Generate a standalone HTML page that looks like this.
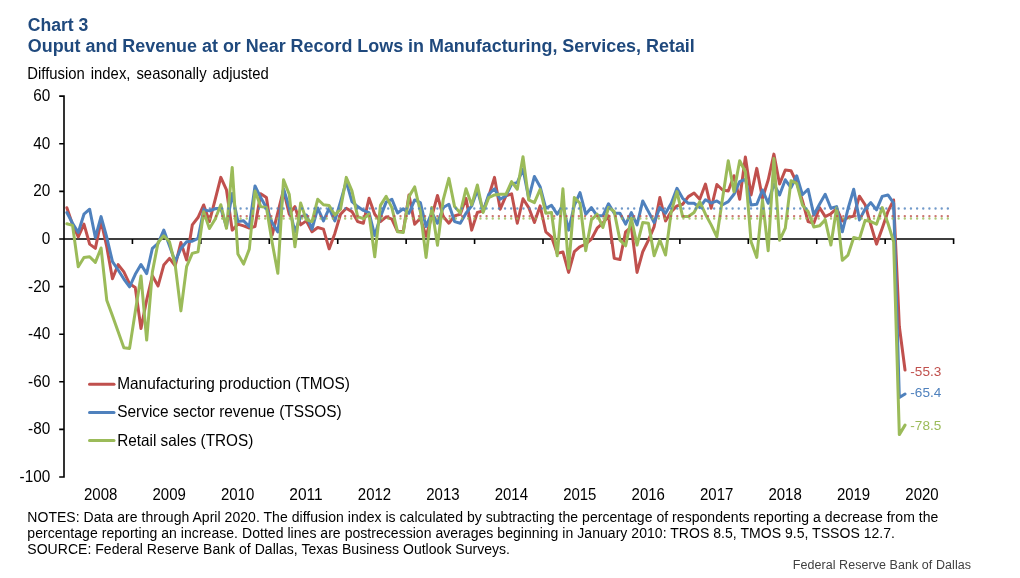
<!DOCTYPE html>
<html lang="en">
<head>
<meta charset="utf-8">
<title>Chart 3 - Ouput and Revenue at or Near Record Lows in Manufacturing, Services, Retail</title>
<style>
html,body{margin:0;padding:0;background:#fff;}
body{width:1020px;height:578px;overflow:hidden;position:relative;font-family:"Liberation Sans",Arial,Helvetica,sans-serif;}
svg{position:absolute;left:0;top:0;display:block;}
text{font-family:"Liberation Sans",Arial,Helvetica,sans-serif;white-space:pre;}
.ttl{font-size:17px;font-weight:700;fill:#1F497D;}
.sub{font-size:14.67px;fill:#000;}
.ax{font-size:15.3px;fill:#000;}
.note{font-size:14px;fill:#000;}
.lbl{font-size:13.33px;}
.src{font-size:12.5px;fill:#404040;}
.ln{fill:none;stroke-width:3.0;stroke-linejoin:round;stroke-linecap:round;}
.dot{fill:none;opacity:0.8;stroke-width:2.4;stroke-linecap:round;stroke-dasharray:0.01 6.14;}
.axl{stroke:#000;stroke-width:1.6;fill:none;}
</style>
</head>
<body>
<svg width="1020" height="578" viewBox="0 0 1020 578">
<rect x="0" y="0" width="1020" height="578" fill="#ffffff"/>
<text class="ttl" textLength="60.6" lengthAdjust="spacingAndGlyphs" transform="translate(27.7,30.75) scale(1,1.075)">Chart 3</text>
<text class="ttl" textLength="667" lengthAdjust="spacingAndGlyphs" transform="translate(27.8,51.65) scale(1,1.075)">Ouput and Revenue at or Near Record Lows in Manufacturing, Services, Retail</text>
<text class="sub" style="font-size:14.85px;word-spacing:1.9px" transform="translate(27.3,79.15) scale(1,1.06)">Diffusion index, seasonally adjusted</text>
<text class="ax" text-anchor="end" transform="translate(50.2,101.1) scale(1,1.05)">60</text>
<text class="ax" text-anchor="end" transform="translate(50.2,148.71) scale(1,1.05)">40</text>
<text class="ax" text-anchor="end" transform="translate(50.2,196.31) scale(1,1.05)">20</text>
<text class="ax" text-anchor="end" transform="translate(50.2,243.92) scale(1,1.05)">0</text>
<text class="ax" text-anchor="end" transform="translate(50.2,291.53) scale(1,1.05)">-20</text>
<text class="ax" text-anchor="end" transform="translate(50.2,339.13) scale(1,1.05)">-40</text>
<text class="ax" text-anchor="end" transform="translate(50.2,386.74) scale(1,1.05)">-60</text>
<text class="ax" text-anchor="end" transform="translate(50.2,434.34) scale(1,1.05)">-80</text>
<text class="ax" text-anchor="end" transform="translate(50.2,481.95) scale(1,1.05)">-100</text>
<text class="ax" textLength="33.3" lengthAdjust="spacingAndGlyphs" transform="translate(84.05,499.9) scale(1,1.05)">2008</text>
<text class="ax" textLength="33.3" lengthAdjust="spacingAndGlyphs" transform="translate(152.49,499.9) scale(1,1.05)">2009</text>
<text class="ax" textLength="33.3" lengthAdjust="spacingAndGlyphs" transform="translate(220.93,499.9) scale(1,1.05)">2010</text>
<text class="ax" textLength="33.3" lengthAdjust="spacingAndGlyphs" transform="translate(289.37,499.9) scale(1,1.05)">2011</text>
<text class="ax" textLength="33.3" lengthAdjust="spacingAndGlyphs" transform="translate(357.81,499.9) scale(1,1.05)">2012</text>
<text class="ax" textLength="33.3" lengthAdjust="spacingAndGlyphs" transform="translate(426.25,499.9) scale(1,1.05)">2013</text>
<text class="ax" textLength="33.3" lengthAdjust="spacingAndGlyphs" transform="translate(494.69,499.9) scale(1,1.05)">2014</text>
<text class="ax" textLength="33.3" lengthAdjust="spacingAndGlyphs" transform="translate(563.13,499.9) scale(1,1.05)">2015</text>
<text class="ax" textLength="33.3" lengthAdjust="spacingAndGlyphs" transform="translate(631.57,499.9) scale(1,1.05)">2016</text>
<text class="ax" textLength="33.3" lengthAdjust="spacingAndGlyphs" transform="translate(700.01,499.9) scale(1,1.05)">2017</text>
<text class="ax" textLength="33.3" lengthAdjust="spacingAndGlyphs" transform="translate(768.45,499.9) scale(1,1.05)">2018</text>
<text class="ax" textLength="33.3" lengthAdjust="spacingAndGlyphs" transform="translate(836.89,499.9) scale(1,1.05)">2019</text>
<text class="ax" textLength="33.3" lengthAdjust="spacingAndGlyphs" transform="translate(905.33,499.9) scale(1,1.05)">2020</text>
<path class="axl" d="M64.0,95.35 V477.80 M59.2,96.15 H64.0 M59.2,143.76 H64.0 M59.2,191.36 H64.0 M59.2,238.97 H64.0 M59.2,286.58 H64.0 M59.2,334.18 H64.0 M59.2,381.79 H64.0 M59.2,429.39 H64.0 M59.2,477.00 H64.0 M64.0,238.97 H954.4 M132.43,238.97 V243.97 M200.86,238.97 V243.97 M269.29,238.97 V243.97 M337.72,238.97 V243.97 M406.15,238.97 V243.97 M474.58,238.97 V243.97 M543.02,238.97 V243.97 M611.45,238.97 V243.97 M679.88,238.97 V243.97 M748.31,238.97 V243.97 M816.74,238.97 V243.97 M885.17,238.97 V243.97 M953.60,238.97 V243.97"/>
<path class="ln" stroke="#C0504D" d="M66.85,207.79 L72.55,224.42 L78.25,236.77 L83.96,224.18 L89.66,244.13 L95.36,248.41 L101.06,220.86 L106.76,246.74 L112.47,278.81 L118.17,264.56 L123.87,271.92 L129.57,283.79 L135.27,287.59 L140.98,328.44 L146.68,299.94 L152.38,275.72 L158.08,285.93 L163.78,265.03 L169.49,258.38 L175.19,265.75 L180.89,242.47 L186.59,260.04 L192.29,224.89 L198.00,217.53 L203.70,204.94 L209.40,221.57 L215.10,199.96 L220.80,177.39 L226.50,189.98 L232.21,230.12 L237.91,224.18 L243.61,225.84 L249.31,227.98 L255.01,226.56 L260.72,193.78 L266.42,197.58 L272.12,235.11 L277.82,212.54 L283.52,189.98 L289.23,214.21 L294.93,206.61 L300.63,224.89 L306.33,220.86 L312.03,231.78 L317.74,227.51 L323.44,229.17 L329.14,248.88 L334.84,233.44 L340.54,214.21 L346.25,208.27 L351.95,211.59 L357.65,221.57 L363.35,223.23 L369.05,198.29 L374.75,214.21 L380.46,221.57 L386.16,216.82 L391.86,219.19 L397.56,231.54 L403.26,231.54 L408.97,194.97 L414.67,224.18 L420.37,218.24 L426.07,236.29 L431.77,216.58 L437.48,195.44 L443.18,216.58 L448.88,223.23 L454.58,215.87 L460.28,214.21 L465.99,198.29 L471.69,230.12 L477.39,212.54 L483.09,210.88 L488.79,195.92 L494.50,177.39 L500.20,209.22 L505.90,195.92 L511.60,193.78 L517.30,223.23 L523.00,198.77 L528.71,207.56 L534.41,222.52 L540.11,205.89 L545.81,231.78 L551.51,236.77 L557.22,253.39 L562.92,251.97 L568.62,272.39 L574.32,251.73 L580.02,246.74 L585.73,244.13 L591.43,239.14 L597.13,228.22 L602.83,223.23 L608.53,215.87 L614.24,258.38 L619.94,259.57 L625.64,231.78 L631.34,226.79 L637.04,272.39 L642.75,251.73 L648.45,240.09 L654.15,226.56 L659.85,197.58 L665.55,220.86 L671.25,211.59 L676.96,205.89 L682.66,204.23 L688.36,196.63 L694.06,193.07 L699.76,199.24 L705.47,184.04 L711.17,208.27 L716.87,184.52 L722.57,189.98 L728.27,190.93 L733.98,175.73 L739.68,199.24 L745.38,156.97 L751.08,194.97 L756.78,168.37 L762.49,198.29 L768.19,180.01 L773.89,154.12 L779.59,184.04 L785.29,170.03 L791.00,170.75 L796.70,182.62 L802.40,200.67 L808.10,221.57 L813.80,223.23 L819.50,207.56 L825.21,216.58 L830.91,213.73 L836.61,208.74 L842.31,220.86 L848.01,217.53 L853.72,216.11 L859.42,196.16 L865.12,204.71 L870.82,224.89 L876.52,244.13 L882.23,228.22 L887.93,211.59 L893.63,199.96 L899.33,326.54 L905.03,370.01"/>
<path class="ln" stroke="#4F81BD" d="M66.85,212.54 L72.55,223.23 L78.25,232.49 L83.96,214.21 L89.66,209.22 L95.36,237.48 L101.06,216.58 L106.76,237.24 L112.47,261.71 L118.17,270.02 L123.87,279.04 L129.57,286.88 L135.27,274.29 L140.98,264.56 L146.68,273.58 L152.38,248.41 L158.08,243.42 L163.78,230.12 L169.49,245.79 L175.19,261.71 L180.89,248.41 L186.59,241.76 L192.29,241.28 L198.00,238.43 L203.70,209.93 L209.40,210.88 L215.10,208.74 L220.80,208.27 L226.50,226.79 L232.21,193.54 L237.91,221.57 L243.61,220.86 L249.31,226.56 L255.01,185.94 L260.72,197.58 L266.42,207.79 L272.12,222.52 L277.82,232.02 L283.52,188.79 L289.23,207.56 L294.93,231.78 L300.63,216.58 L306.33,214.92 L312.03,229.17 L317.74,208.03 L323.44,220.86 L329.14,208.27 L334.84,220.86 L340.54,201.62 L346.25,181.67 L351.95,201.62 L357.65,206.61 L363.35,210.41 L369.05,212.54 L374.75,235.58 L380.46,216.58 L386.16,202.09 L391.86,199.24 L397.56,213.02 L403.26,208.74 L408.97,213.26 L414.67,199.96 L420.37,202.57 L426.07,226.56 L431.77,212.54 L437.48,223.23 L443.18,207.56 L448.88,204.23 L454.58,221.57 L460.28,223.23 L465.99,213.26 L471.69,205.89 L477.39,189.98 L483.09,211.36 L488.79,194.26 L494.50,188.79 L500.20,199.24 L505.90,195.92 L511.60,184.04 L517.30,182.62 L523.00,169.08 L528.71,198.29 L534.41,176.44 L540.11,186.66 L545.81,208.27 L551.51,205.42 L557.22,214.21 L562.92,205.89 L568.62,230.12 L574.32,205.42 L580.02,192.59 L585.73,214.21 L591.43,207.56 L597.13,215.87 L602.83,215.87 L608.53,203.76 L614.24,213.26 L619.94,213.26 L625.64,224.18 L631.34,212.54 L637.04,224.89 L642.75,200.91 L648.45,211.59 L654.15,222.52 L659.85,207.56 L665.55,213.26 L671.25,203.28 L676.96,188.32 L682.66,198.29 L688.36,203.28 L694.06,203.28 L699.76,207.56 L705.47,199.72 L711.17,203.04 L716.87,200.91 L722.57,204.71 L728.27,201.62 L733.98,194.26 L739.68,181.67 L745.38,179.29 L751.08,204.94 L756.78,204.23 L762.49,189.98 L768.19,203.28 L773.89,184.04 L779.59,194.97 L785.29,179.77 L791.00,187.61 L796.70,175.73 L802.40,194.73 L808.10,189.27 L813.80,214.92 L819.50,204.23 L825.21,194.26 L830.91,208.27 L836.61,206.61 L842.31,231.78 L848.01,208.74 L853.72,189.27 L859.42,219.91 L865.12,208.98 L870.82,202.57 L876.52,209.93 L882.23,196.39 L887.93,194.97 L893.63,203.04 L899.33,397.56 L905.03,394.00"/>
<path class="ln" stroke="#9BBB59" d="M66.85,223.71 L72.55,225.37 L78.25,266.69 L83.96,257.43 L89.66,256.72 L95.36,262.42 L101.06,247.93 L106.76,300.18 L112.47,315.86 L118.17,331.77 L123.87,347.68 L129.57,348.39 L135.27,311.82 L140.98,275.96 L146.68,340.08 L152.38,271.92 L158.08,242.47 L163.78,235.82 L169.49,241.76 L175.19,265.03 L180.89,310.87 L186.59,266.69 L192.29,253.39 L198.00,251.73 L203.70,211.83 L209.40,228.46 L215.10,219.19 L220.80,204.71 L226.50,228.34 L232.21,167.42 L237.91,254.11 L243.61,264.08 L249.31,249.12 L255.01,190.93 L260.72,206.61 L266.42,207.56 L272.12,242.23 L277.82,273.34 L283.52,179.77 L289.23,194.26 L294.93,246.74 L300.63,203.04 L306.33,219.91 L312.03,221.57 L317.74,199.24 L323.44,204.71 L329.14,205.42 L334.84,214.92 L340.54,209.22 L346.25,177.39 L351.95,190.93 L357.65,216.58 L363.35,218.72 L369.05,214.21 L374.75,256.72 L380.46,205.42 L386.16,196.39 L391.86,207.56 L397.56,231.78 L403.26,232.49 L408.97,196.63 L414.67,186.89 L420.37,211.59 L426.07,257.43 L431.77,207.56 L437.48,245.32 L443.18,199.96 L448.88,178.34 L454.58,206.61 L460.28,213.02 L465.99,188.79 L471.69,204.94 L477.39,184.99 L483.09,212.54 L488.79,197.58 L494.50,194.97 L500.20,194.26 L505.90,194.26 L511.60,181.67 L517.30,189.27 L523.00,156.73 L528.71,199.96 L534.41,202.57 L540.11,189.27 L545.81,213.26 L551.51,212.54 L557.22,255.77 L562.92,188.79 L568.62,268.36 L574.32,197.58 L580.02,203.28 L585.73,250.78 L591.43,219.91 L597.13,214.21 L602.83,227.51 L608.53,207.56 L614.24,211.59 L619.94,240.09 L625.64,245.79 L631.34,218.24 L637.04,245.08 L642.75,222.52 L648.45,223.23 L654.15,255.77 L659.85,240.09 L665.55,255.06 L671.25,211.59 L676.96,191.64 L682.66,216.58 L688.36,216.58 L694.06,212.54 L699.76,201.62 L705.47,214.21 L711.17,224.89 L716.87,236.77 L722.57,198.29 L728.27,160.77 L733.98,191.64 L739.68,160.77 L745.38,171.69 L751.08,241.76 L756.78,257.43 L762.49,199.96 L768.19,250.78 L773.89,158.39 L779.59,240.33 L785.29,228.22 L791.00,180.72 L796.70,183.33 L802.40,204.94 L808.10,211.59 L813.80,227.03 L819.50,225.84 L825.21,219.91 L830.91,245.08 L836.61,208.03 L842.31,260.28 L848.01,255.06 L853.72,237.48 L859.42,238.91 L865.12,220.38 L870.82,221.57 L876.52,224.18 L882.23,207.56 L887.93,223.23 L893.63,241.76 L899.33,434.61 L905.03,425.11"/>
<path class="dot" stroke="#4F81BD" d="M203.70,208.51 H949.00"/>
<path class="dot" stroke="#C0504D" d="M203.70,216.11 H949.00"/>
<path class="dot" stroke="#9BBB59" d="M203.70,218.48 H949.00"/>
<path class="ln" stroke="#C0504D" d="M89.5,384.2 H114"/>
<text class="ax" textLength="232.8" lengthAdjust="spacingAndGlyphs" transform="translate(117.2,388.8) scale(1,1.05)">Manufacturing production (TMOS)</text>
<path class="ln" stroke="#4F81BD" d="M89.5,412.4 H114"/>
<text class="ax" textLength="224.5" lengthAdjust="spacingAndGlyphs" transform="translate(117.2,417.1) scale(1,1.05)">Service sector revenue (TSSOS)</text>
<path class="ln" stroke="#9BBB59" d="M89.5,440.4 H114"/>
<text class="ax" textLength="136.1" lengthAdjust="spacingAndGlyphs" transform="translate(117.2,445.6) scale(1,1.05)">Retail sales (TROS)</text>
<text class="lbl" textLength="31" lengthAdjust="spacingAndGlyphs" fill="#C0504D" x="910.3" y="375.8">-55.3</text>
<text class="lbl" textLength="31" lengthAdjust="spacingAndGlyphs" fill="#4F81BD" x="910.3" y="397">-65.4</text>
<text class="lbl" textLength="31" lengthAdjust="spacingAndGlyphs" fill="#9BBB59" x="910.3" y="429.7">-78.5</text>
<text class="note" textLength="911" lengthAdjust="spacing" x="27.3" y="521.7">NOTES: Data are through April 2020. The diffusion index is calculated by subtracting the percentage of respondents reporting a decrease from the</text>
<text class="note" textLength="867.7" lengthAdjust="spacing" x="27.3" y="537.7">percentage reporting an increase. Dotted lines are postrecession averages beginning in January 2010: TROS 8.5, TMOS 9.5, TSSOS 12.7.</text>
<text class="note" textLength="482.7" lengthAdjust="spacing" x="27.3" y="553.8">SOURCE: Federal Reserve Bank of Dallas, Texas Business Outlook Surveys.</text>
<text class="src" textLength="178.3" lengthAdjust="spacing" x="792.7" y="569.3">Federal Reserve Bank of Dallas</text>
</svg>
</body>
</html>
